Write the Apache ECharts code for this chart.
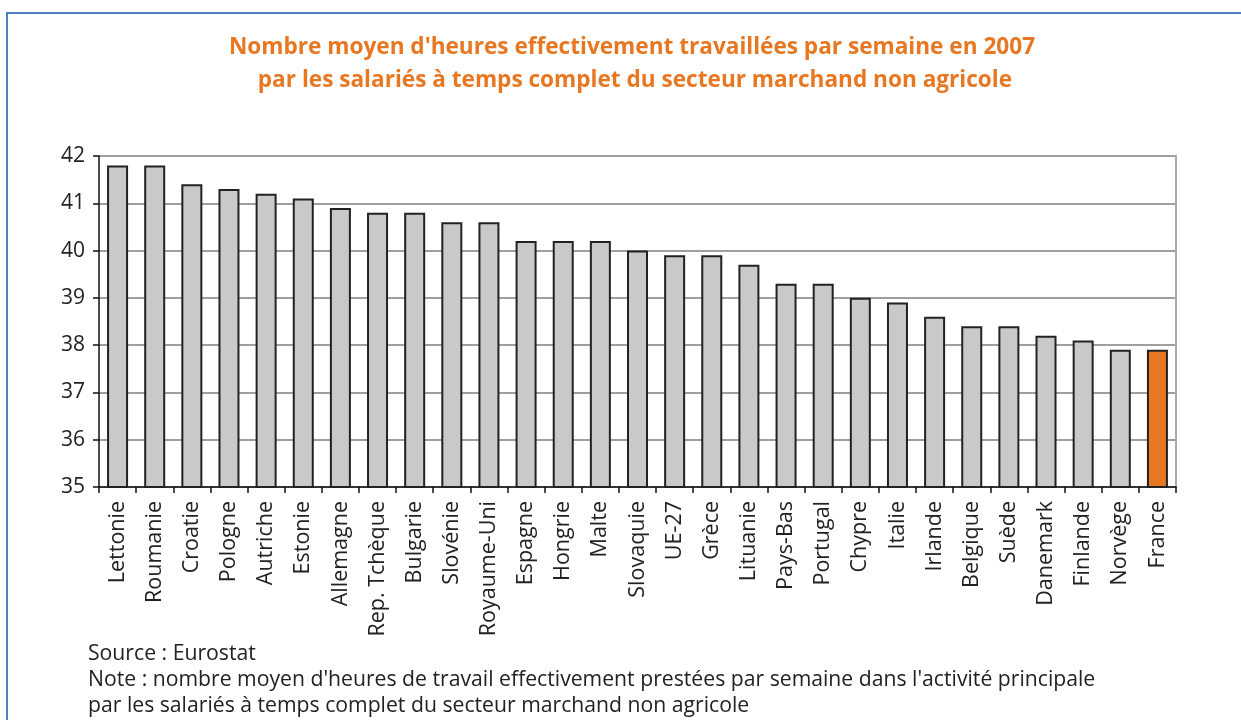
<!DOCTYPE html>
<html>
<head>
<meta charset="utf-8">
<script src="https://cdn.jsdelivr.net/npm/echarts@6/dist/echarts.min.js"></script>
<style>
  html, body { margin: 0; padding: 0; background: #fff; }
  #chart { width: 1241px; height: 720px; }
</style>
</head>
<body>
<div id="chart"></div>
<script>
// pays (ordre du graphique)
const countries = [
  "Lettonie", "Roumanie", "Croatie", "Pologne", "Autriche", "Estonie",
  "Allemagne", "Rep. Tchèque", "Bulgarie", "Slovénie", "Royaume-Uni",
  "Espagne", "Hongrie", "Malte", "Slovaquie", "UE-27", "Grèce", "Lituanie",
  "Pays-Bas", "Portugal", "Chypre", "Italie", "Irlande", "Belgique", "Suède",
  "Danemark", "Finlande", "Norvège", "France"
];
// heures moyennes par semaine
const hours = [
  41.8, 41.8, 41.4, 41.3, 41.2, 41.1,
  40.9, 40.8, 40.8, 40.6, 40.6,
  40.2, 40.2, 40.2, 40.0, 39.9, 39.9, 39.7,
  39.3, 39.3, 39.0, 38.9, 38.6, 38.4, 38.4,
  38.2, 38.1, 37.9, 37.9
];
const highlight = "France";
const yTicks = { min: 35, max: 42, step: 1 };

const chart = echarts.init(document.getElementById("chart"));
const font = "'Open Sans', 'DejaVu Sans', sans-serif";

chart.setOption({
  animation: false,
  backgroundColor: "#fff",
  title: {
    text: "Source : Eurostat\nNote : nombre moyen d'heures de travail effectivement prestées par semaine dans l'activité principale\npar les salariés à temps complet du secteur marchand non agricole",
    left: 88,
    top: 641,
    padding: 0,
    textStyle: {
      color: "#222",
      fontFamily: font,
      fontWeight: "normal",
      fontSize: 21.2,
      lineHeight: 26
    }
  },
  graphic: [
    {
      type: "polyline",
      shape: { points: [[7, 720], [7, 13], [1241, 13]] },
      style: { stroke: "#4f7fc4", lineWidth: 2, fill: null }
    },
    {
      type: "text",
      x: 632,
      y: 31,
      style: {
        text: "Nombre moyen d'heures effectivement travaillées par semaine en 2007\n par les salariés à temps complet du secteur marchand non agricole",
        align: "center",
        fill: "#e87722",
        font: "bold 22.6px " + font,
        lineHeight: 33
      }
    }
  ],
  grid: { left: 99, right: 65, top: 156, bottom: 233 },
  xAxis: {
    type: "category",
    data: countries,
    axisLine: { lineStyle: { color: "#111", width: 1.5 } },
    axisTick: { show: true, length: 6, lineStyle: { color: "#111", width: 1.5 } },
    axisLabel: {
      rotate: 90,
      interval: 0,
      margin: 14,
      color: "#222",
      fontFamily: font,
      fontSize: 21.5
    }
  },
  yAxis: [
    {
      type: "value",
      min: yTicks.min,
      max: yTicks.max,
      interval: yTicks.step,
      axisLine: { show: true, lineStyle: { color: "#111", width: 1.5 } },
      axisTick: { show: true, length: 6, lineStyle: { color: "#111", width: 1.5 } },
      axisLabel: { color: "#222", fontFamily: font, fontSize: 21, margin: 14 },
      splitLine: { lineStyle: { color: "#7f7f7f", width: 1.5 } }
    },
    {
      type: "value",
      position: "right",
      min: yTicks.min,
      max: yTicks.max,
      interval: yTicks.step,
      axisLine: { show: true, lineStyle: { color: "#aaa", width: 2 } },
      axisTick: { show: false },
      axisLabel: { show: false },
      splitLine: { show: false }
    }
  ],
  series: [
    {
      type: "bar",
      data: hours.map((v, i) => ({
        value: v,
        itemStyle: countries[i] === highlight ? { color: "#e87722" } : undefined
      })),
      barWidth: 21,
      itemStyle: { color: "#c8c9cb", borderColor: "#222", borderWidth: 2 }
    }
  ]
});
</script>
</body>
</html>
